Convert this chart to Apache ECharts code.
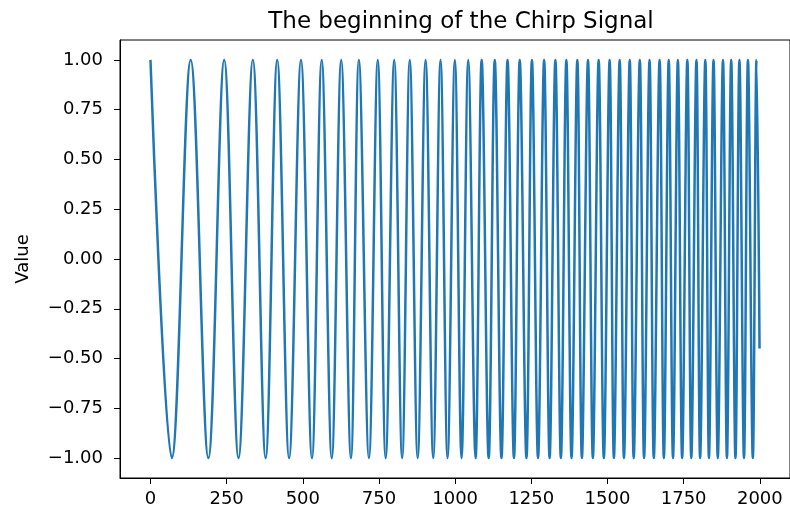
<!DOCTYPE html>
<html>
<head>
<meta charset="utf-8">
<script src="https://cdn.jsdelivr.net/npm/echarts@6/dist/echarts.min.js"></script>
<style>html,body{margin:0;padding:0;background:#fff}#c{width:790px;height:510px}</style>
</head>
<body>
<div id="c"></div>
<script>
// Sample positions of the maxima (value 1)
const peakSamples = [0,132,242,336,416,494,562,626,684,746,800,851,903,952,999,1043,1087,1130,1172,1212,1252,1292,1329,1365,1401,1436,1471,1507,1540,1573,1606,1638,1671,1701,1731,1762,1792,1821,1848,1879,1906,1933,1961,1989];
// Sample positions of the minima (value -1)
const troughSamples = [70,190,289,378,455,530,595,658,717,772,826,877,928,975,1021,1067,1110,1152,1193,1234,1272,1310,1347,1382,1416,1452,1488,1521,1554,1586,1620,1652,1685,1715,1745,1775,1804,1833,1862,1892,1920,1948,1977];
const peakValue = 1;
const troughValue = -1;
const lastSample = [1999, -0.45];
const xTicks = [0,250,500,750,1000,1250,1500,1750,2000];
const yTicks = [-1,-0.75,-0.5,-0.25,0,0.25,0.5,0.75,1];

const pts = [];
peakSamples.forEach(x => pts.push([x, peakValue]));
troughSamples.forEach(x => pts.push([x, troughValue]));
pts.sort((a,b) => a[0]-b[0]);
pts.push(lastSample);

const font = 'DejaVu Sans';
const chart = echarts.init(document.getElementById('c'), null, {renderer:'canvas'});
chart.setOption({
  animation:false,
  backgroundColor:'#fff',
  title:{
    text:'The beginning of the Chirp Signal',
    left:456, top:6, textAlign:'center',
    textStyle:{fontFamily:font, fontSize:23, fontWeight:'normal', color:'#000'}
  },
  grid:{left:120, right:-2, top:40, bottom:32, show:true, borderColor:'#000', borderWidth:1, containLabel:false},
  xAxis:{
    type:'value', min:-100, max:2099,
    axisLine:{show:true, onZero:false, lineStyle:{color:'#000', width:1}},
    axisTick:{show:true, inside:false, length:6, lineStyle:{color:'#000', width:1}, customValues:xTicks},
    axisLabel:{show:true, margin:12, fontFamily:font, fontSize:18, color:'#000', customValues:xTicks,
      formatter: v => String(v)},
    splitLine:{show:false}
  },
  yAxis:{
    type:'value', min:-1.1, max:1.1,
    name:'Value', nameLocation:'middle', nameGap:88,
    nameTextStyle:{fontFamily:font, fontSize:18, color:'#000'},
    axisLine:{show:true, onZero:false, lineStyle:{color:'#000', width:1}},
    axisTick:{show:true, inside:false, length:6, lineStyle:{color:'#000', width:1}, customValues:yTicks},
    axisLabel:{show:true, margin:17, fontFamily:font, fontSize:18, color:'#000', customValues:yTicks,
      formatter: v => (v < 0 ? '\u2212' : '') + Math.abs(v).toFixed(2)},
    splitLine:{show:false}
  },
  series:[{
    type:'line', data:pts, showSymbol:false, smooth:0.36,
    lineStyle:{color:'#1f77b4', width:2.5}, clip:true
  }]
});
</script>
</body>
</html>
